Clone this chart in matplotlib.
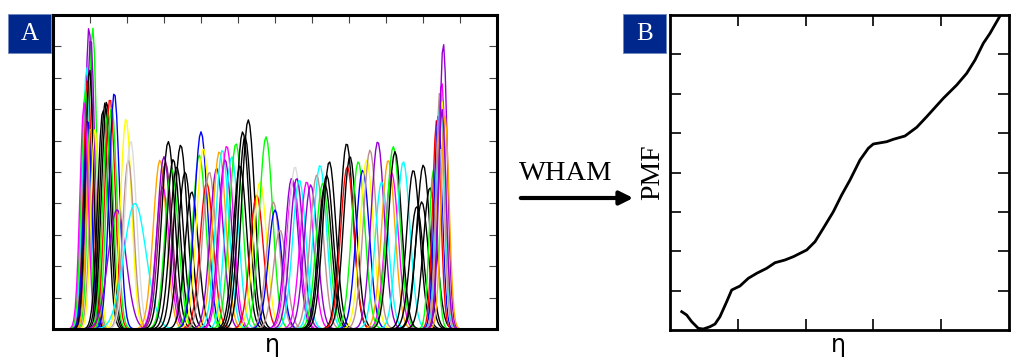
import numpy as np
import matplotlib
matplotlib.use("Agg")
import matplotlib.pyplot as plt
from matplotlib.patches import FancyArrowPatch, Rectangle

# Grace-like colour names used by the histograms
palette = {
    "k": "#000000", "r": "#ff0000", "g": "#00ff00", "b": "#0000ff",
    "y": "#ffff00", "br": "#bc8f8f", "gr": "#dcdcdc", "v": "#9400d3",
    "c": "#00ffff", "m": "#ff00ff", "o": "#ffa500", "mr": "#8b1c62",
}

# Panel A: umbrella windows (centre, peak height, width, colour)
win_center = [0.973, 1.073, 1.019, 0.911, 0.938, 0.873, 0.938, 1.019, 1.089, 0.986, 1.135, 0.84,
              1.35, 1.405, 1.451, 1.486, 1.54, 1.586, 1.657, 1.73, 1.973, 2.035, 2.10, 2.216,
              2.89, 2.965, 3.00, 3.04, 3.116, 3.207, 3.25, 3.343, 3.451, 3.568, 3.749,
              3.954, 4.00, 4.062, 4.154, 4.224, 4.424, 4.495, 4.576, 4.649, 4.695, 4.83, 4.946,
              5.054, 5.127, 5.189, 5.278, 5.505, 5.595, 5.757, 5.954, 6.00, 6.135,
              6.451, 6.495, 6.541, 6.586, 6.657, 6.857, 6.965, 7.127, 7.216, 7.289,
              7.351, 7.397, 7.468, 7.938, 7.954, 8.027, 8.251, 8.37, 8.478, 8.568, 8.776, 8.884,
              9.062, 9.154, 9.197, 9.243, 9.468, 9.738, 9.83, 9.965, 10.008, 10.189,
              10.278, 10.37, 10.414, 10.459, 10.459, 10.486, 10.505, 10.505, 10.549, 10.595, 10.514]
win_height = [9.63, 9.60, 9.30, 8.35, 8.00, 7.60, 6.70, 6.45, 5.17, 8.30, 6.40, 7.20,
              6.97, 7.20, 7.24, 6.90, 7.35, 7.10, 7.53, 3.80, 6.70, 5.38, 6.00, 4.00,
              5.38, 4.53, 5.49, 5.30, 5.97, 5.10, 5.40, 5.17, 5.86, 5.00, 4.37,
              5.54, 6.28, 5.75, 4.65, 5.00, 5.12, 5.65, 5.70, 5.40, 5.83, 5.49, 5.91,
              5.20, 6.28, 6.12, 6.66, 4.27, 4.69, 6.12, 4.05, 3.79, 3.15,
              4.80, 4.70, 5.17, 4.80, 4.75, 4.69, 4.59, 4.90, 5.22, 4.64,
              4.60, 4.90, 5.33, 5.91, 5.17, 5.49, 5.33, 5.06, 5.38, 5.70, 5.97, 4.69,
              5.38, 4.96, 5.81, 5.65, 5.33, 5.06, 3.90, 4.05, 5.22, 4.50,
              5.06, 6.66, 6.82, 5.81, 7.61, 7.50, 7.88, 7.30, 9.10, 6.80, 7.00]
win_width = [0.11] * 12 + [0.14] * 7 + [0.24, 0.15, 0.15, 0.16, 0.30] + [0.18] * 65 + [0.11] * 11
win_color = ["v", "g", "v", "c", "r", "g", "b", "o", "br", "k", "y", "m",
             "k", "k", "k", "g", "r", "g", "b", "v", "y", "br", "gr", "c",
             "o", "m", "v", "mr", "k", "g", "k", "k", "k", "k", "k",
             "g", "b", "y", "r", "br", "v", "o", "c", "v", "m", "c", "g",
             "k", "k", "k", "k", "r", "y", "g", "br", "b", "br",
             "v", "m", "gr", "v", "c", "m", "v", "br", "c", "g",
             "k", "k", "k", "k", "r", "k", "g", "b", "y", "br", "v", "c",
             "o", "m", "g", "k", "c", "k", "k", "k", "k", "k",
             "g", "r", "b", "gr", "br", "c", "m", "y", "v", "o", "v"]

# Panel B: PMF curve
pmf_x = [0.173, 0.246, 0.320, 0.417, 0.491, 0.590, 0.664, 0.737, 0.836, 0.910, 1.032, 1.155,
         1.279, 1.426, 1.549, 1.696, 1.819, 2.016, 2.139, 2.261, 2.409, 2.532, 2.655, 2.802,
         2.925, 2.999, 3.196, 3.294, 3.466, 3.639, 3.786, 4.031, 4.229, 4.376, 4.499, 4.621,
         4.720, 4.867, 5.0]
pmf_y = [0.465, 0.381, 0.211, 0.043, 0.025, 0.084, 0.152, 0.338, 0.719, 1.016, 1.117, 1.313,
         1.440, 1.567, 1.709, 1.778, 1.862, 2.032, 2.243, 2.583, 3.004, 3.429, 3.810, 4.317,
         4.615, 4.724, 4.782, 4.843, 4.927, 5.148, 5.417, 5.884, 6.222, 6.519, 6.857, 7.281,
         7.535, 7.975, 8.25]

W, H = 1017, 360
fig = plt.figure(figsize=(W / 100, H / 100), dpi=100)
serif = "Liberation Serif"

# ---- panel A
axA = fig.add_axes([53 / W, 1 - 329 / H, 444 / W, 314 / H])
grid = np.arange(0, 12.001, 0.04)
for c, h, s, col in zip(win_center, win_height, win_width, win_color):
    m = np.abs(grid - c) < 4 * s
    xs = grid[m]
    axA.plot(xs, h * np.exp(-0.5 * ((xs - c) / s) ** 2), color=palette[col], lw=1.0)
axA.set_xlim(0, 12)
axA.set_ylim(0, 10)
axA.set_xticks(np.arange(1, 12))
axA.set_yticks(np.arange(1, 10))
axA.tick_params(direction="in", length=6, width=0.8, color="#444444",
                top=True, bottom=False, left=True, right=True,
                labelbottom=False, labelleft=False)
for sp in axA.spines.values():
    sp.set_linewidth(2.2)

# ---- panel B
axB = fig.add_axes([670 / W, 1 - 330 / H, 339 / W, 315 / H])
axB.plot(pmf_x, pmf_y, color="black", lw=2.0)
axB.set_xlim(0, 5)
axB.set_ylim(0, 8)
axB.set_xticks(np.arange(1, 5))
axB.set_yticks(np.arange(1, 8))
axB.tick_params(direction="in", length=8, width=1.2,
                top=True, bottom=True, left=True, right=True,
                labelbottom=False, labelleft=False)
for sp in axB.spines.values():
    sp.set_linewidth(2.0)

# ---- panel tags
for x0, tag in [(8, "A"), (623, "B")]:
    fig.patches.append(Rectangle((x0 / W, 1 - 53 / H), 43 / W, 39 / H,
                                 transform=fig.transFigure, facecolor="#00288c",
                                 edgecolor="#6f86c0", lw=0.6))
    fig.text((x0 + 21.5) / W, 1 - 33.5 / H, tag, color="white", fontsize=18,
             family=serif, ha="center", va="center")

# ---- axis labels and WHAM arrow
fig.text(272 / W, 1 - 345 / H, "η", fontsize=17, family="DejaVu Sans",
         ha="center", va="center")
fig.text(838 / W, 1 - 345 / H, "η", fontsize=17, family="DejaVu Sans",
         ha="center", va="center")
fig.text(653 / W, 1 - 172 / H, "PMF", fontsize=20, family=serif, rotation=90,
         ha="center", va="center")
fig.text(566 / W, 1 - 173 / H, "WHAM", fontsize=20.5, family=serif,
         ha="center", va="center")
fig.patches.append(FancyArrowPatch((518 / W, 1 - 198 / H), (636 / W, 1 - 198 / H),
                                   transform=fig.transFigure, arrowstyle="-|>",
                                   mutation_scale=20, lw=3, color="black"))

fig.savefig("out.png", dpi=100)
